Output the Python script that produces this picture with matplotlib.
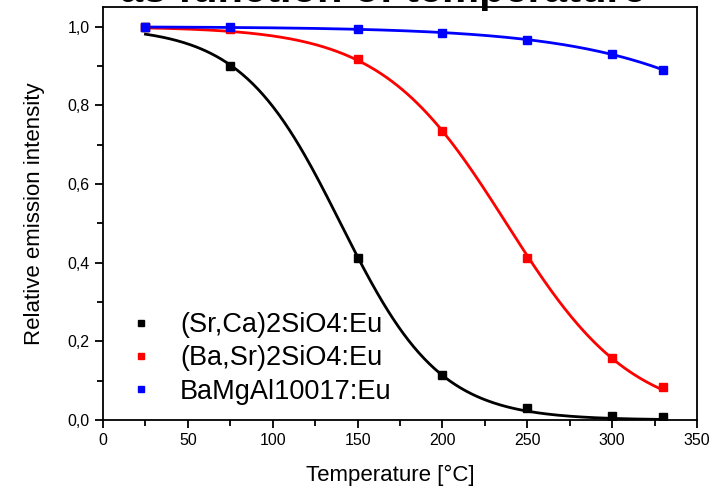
"""Относительная интенсивность эмиссии в зависимости от температуры."""

import matplotlib

matplotlib.use("Agg")

import matplotlib.pyplot as plt
import numpy as np
from matplotlib.lines import Line2D
from matplotlib.ticker import FuncFormatter, MultipleLocator

temperature = [25, 75, 150, 200, 250, 300, 330]
sr_ca = [1.0, 0.90, 0.413, 0.115, 0.030, 0.010, 0.007]
ba_sr = [1.0, 0.995, 0.918, 0.735, 0.413, 0.158, 0.083]
bamgal = [1.0, 1.0, 0.993, 0.985, 0.966, 0.930, 0.890]

labels = ["(Sr,Ca)2SiO4:Eu", "(Ba,Sr)2SiO4:Eu", "BaMgAl10017:Eu"]
colors = ["black", "#ff0000", "#0000ff"]

plt.rcParams["font.family"] = ["Liberation Sans", "DejaVu Sans"]


def logistic_fit(x, y):
    """Логистическая аппроксимация: старт по logit, затем Гаусс-Ньютон."""
    x = np.asarray(x, dtype=float)
    y = np.asarray(y, dtype=float)
    mask = (y > 0) & (y < 0.999)
    yy = y[mask]
    k, b = np.polyfit(x[mask], np.log(1.0 / yy - 1.0), 1, w=yy * (1 - yy))
    for _ in range(50):
        f = 1.0 / (1.0 + np.exp(k * x + b))
        d = -f * (1 - f)
        jac = np.column_stack([d * x, d])
        step, *_ = np.linalg.lstsq(jac, y - f, rcond=None)
        k, b = k + step[0], b + step[1]
    xs = np.linspace(x.min(), x.max(), 300)
    return xs, 1.0 / (1.0 + np.exp(k * xs + b))


fig = plt.figure(figsize=(7.24, 4.88), dpi=100)
ax = fig.add_axes([0.1423, 0.1393, 0.8204, 0.8464])

for series, color in zip([sr_ca, ba_sr, bamgal], colors):
    xs, ys = logistic_fit(temperature, series)
    ax.plot(xs, ys, color=color, lw=2.0, zorder=2)
    ax.plot(temperature, series, "s", color=color, ms=6, zorder=3)

ax.set_xlim(0, 350)
ax.set_ylim(0, 1.05)
ax.xaxis.set_major_locator(MultipleLocator(50))
ax.xaxis.set_minor_locator(MultipleLocator(25))
ax.yaxis.set_major_locator(MultipleLocator(0.2))
ax.yaxis.set_minor_locator(MultipleLocator(0.1))
ax.yaxis.set_major_formatter(FuncFormatter(lambda v, p: f"{v:.1f}".replace(".", ",")))

ax.tick_params(which="major", direction="out", length=6, width=1.3, labelsize=11.5)
ax.tick_params(which="minor", direction="out", length=4, width=1.3)
for spine in ax.spines.values():
    spine.set_linewidth(1.3)

ax.set_xlabel("Temperature [°C]", fontsize=16)
ax.set_ylabel("Relative emission intensity", fontsize=16)
ax.xaxis.set_label_coords(0.483, -0.133)
ax.yaxis.set_label_coords(-0.115, 0.5)
ax.xaxis.label.set_va("center")
ax.yaxis.label.set_va("center")

handles = [Line2D([], [], ls="none", marker="s", ms=5, color=c) for c in colors]
ax.legend(handles, labels, loc="lower left", bbox_to_anchor=(-0.005, -0.022),
          frameon=False, fontsize=19.5, labelspacing=0.27, handletextpad=0.85,
          handlelength=1.2)

fig.text(0.529, 0.995, "as function of temperature", ha="center", va="baseline",
         fontsize=30, fontweight="bold")

fig.savefig("out.png", dpi=100)
plt.close(fig)
